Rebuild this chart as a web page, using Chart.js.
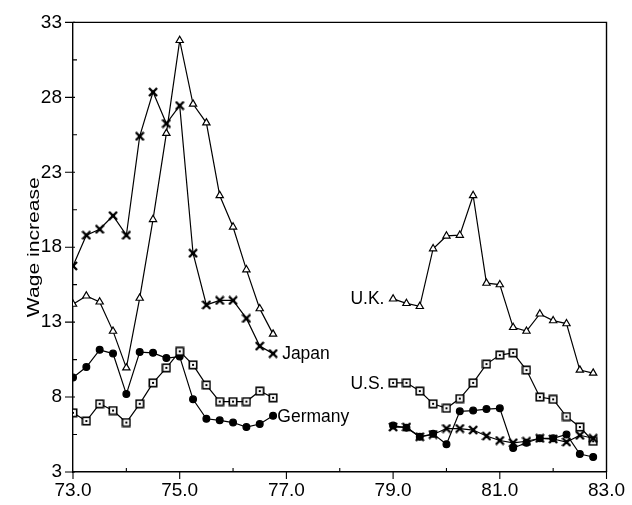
<!DOCTYPE html>
<html>
<head>
<meta charset="utf-8">
<script src="https://cdn.jsdelivr.net/npm/chart.js@4"></script>
<style>
  html, body { margin: 0; padding: 0; background: #fff; }
  #wrap { width: 632px; height: 505px; }
</style>
</head>
<body>
<div id="wrap"><canvas id="c" width="632" height="505"></canvas></div>
<script>
// Quarterly observations, two periods
const quarters1 = [73.0, 73.25, 73.5, 73.75, 74.0, 74.25, 74.5, 74.75, 75.0, 75.25, 75.5, 75.75, 76.0, 76.25, 76.5, 76.75];
const quarters2 = [79.0, 79.25, 79.5, 79.75, 80.0, 80.25, 80.5, 80.75, 81.0, 81.25, 81.5, 81.75, 82.0, 82.25, 82.5, 82.75];

const ukWages1 = [14.2, 14.75, 14.35, 12.4, 9.95, 14.6, 19.85, 25.6, 31.8, 27.55, 26.3, 21.45, 19.35, 16.5, 13.9, 12.2];
const ukWages2 = [14.55, 14.25, 14.05, 17.9, 18.75, 18.8, 21.45, 15.6, 15.5, 12.65, 12.4, 13.55, 13.1, 12.9, 9.8, 9.6];

const japanWages1 = [16.75, 18.8, 19.2, 20.1, 18.8, 25.4, 28.35, 26.25, 27.45, 17.6, 14.15, 14.45, 14.45, 13.25, 11.4, 10.9];
const japanWages2 = [6.0, 6.0, 5.35, 5.5, 5.9, 5.9, 5.8, 5.4, 5.1, 4.95, 5.05, 5.25, 5.2, 5.0, 5.45, 5.25];

const usWages1 = [6.95, 6.4, 7.55, 7.1, 6.3, 7.55, 8.95, 9.95, 11.05, 10.15, 8.8, 7.7, 7.7, 7.7, 8.4, 7.95];
const usWages2 = [8.95, 8.95, 8.4, 7.55, 7.25, 7.9, 8.95, 10.2, 10.8, 10.95, 9.8, 8.0, 7.85, 6.7, 6.0, 5.05];

const germanyWages1 = [9.3, 10.0, 11.15, 10.9, 8.2, 11.0, 10.95, 10.6, 10.7, 7.85, 6.55, 6.45, 6.3, 6.0, 6.2, 6.75];
const germanyWages2 = [6.1, 5.95, 5.35, 5.55, 4.85, 7.05, 7.1, 7.2, 7.25, 4.6, 4.95, 5.25, 5.25, 5.5, 4.2, 4.0];

const yTicks = [3, 8, 13, 18, 23, 28, 33];
const xTicks = [73, 75, 77, 79, 81, 83];
const yTitle = 'Wage increase';

// Join the two periods, with a break between them
function periods(xs1, ys1, xs2, ys2) {
  const pts = xs1.map((x, i) => ({ x: x, y: ys1[i] }));
  pts.push({ x: 78, y: null });
  return pts.concat(xs2.map((x, i) => ({ x: x, y: ys2[i] })));
}

// Marker images
function squareMarker() {
  const c = document.createElement('canvas');
  c.width = 10; c.height = 10;
  const g = c.getContext('2d');
  g.fillStyle = '#fff';
  g.fillRect(1, 1, 8, 8);
  g.strokeStyle = '#000';
  g.lineWidth = 1.6;
  g.strokeRect(1.3, 1.3, 7.4, 7.4);
  g.fillStyle = '#000';
  g.fillRect(4, 4, 2, 2);
  return c;
}
function bowtieMarker() {
  const c = document.createElement('canvas');
  c.width = 10; c.height = 10;
  const g = c.getContext('2d');
  g.strokeStyle = '#000';
  g.lineWidth = 2.4;
  g.lineCap = 'butt';
  g.beginPath();
  g.moveTo(1, 1); g.lineTo(9, 9);
  g.moveTo(9, 1); g.lineTo(1, 9);
  g.stroke();
  g.fillStyle = '#000';
  g.fillRect(3, 3, 4, 4);
  return c;
}

const FONT = "'Liberation Sans', Arial, Helvetica, sans-serif";

const annotations = [
  { text: 'Japan', x: 76.92, y: 10.85 },
  { text: 'U.K.', x: 78.2, y: 14.5 },
  { text: 'U.S.', x: 78.2, y: 8.85 },
  { text: 'Germany', x: 76.83, y: 6.65 }
];

const framePlugin = {
  id: 'frame',
  afterDraw(chart) {
    const { ctx, chartArea: a, scales } = chart;
    ctx.save();
    ctx.strokeStyle = '#000';
    ctx.lineWidth = 1.4;
    ctx.beginPath();
    ctx.moveTo(a.left, a.top); ctx.lineTo(a.right, a.top); ctx.lineTo(a.right, a.bottom);
    ctx.stroke();

    // Tick marks: major outward, minor inward
    ctx.lineWidth = 1.1;
    ctx.beginPath();
    yTicks.forEach(v => {
      const py = scales.y.getPixelForValue(v);
      ctx.moveTo(a.left - 8, py); ctx.lineTo(a.left + 2, py);
    });
    for (let i = 0; i < yTicks.length - 1; i++) {
      const py = scales.y.getPixelForValue((yTicks[i] + yTicks[i + 1]) / 2);
      ctx.moveTo(a.left, py); ctx.lineTo(a.left + 4, py);
    }
    xTicks.forEach(v => {
      const px = scales.x.getPixelForValue(v);
      ctx.moveTo(px, a.bottom - 1); ctx.lineTo(px, a.bottom + 7);
    });
    for (let i = 0; i < xTicks.length - 1; i++) {
      const px = scales.x.getPixelForValue((xTicks[i] + xTicks[i + 1]) / 2);
      ctx.moveTo(px, a.bottom); ctx.lineTo(px, a.bottom - 4);
    }
    ctx.stroke();

    // Country labels
    ctx.fillStyle = '#000';
    ctx.font = '17.5px ' + FONT;
    ctx.textAlign = 'left';
    ctx.textBaseline = 'middle';
    annotations.forEach(t => {
      ctx.fillText(t.text, scales.x.getPixelForValue(t.x), scales.y.getPixelForValue(t.y));
    });

    // Vertical axis title, set in a wide face
    const midY = (a.top + a.bottom) / 2;
    ctx.translate(35, midY);
    ctx.rotate(-Math.PI / 2);
    ctx.scale(1.32, 1);
    ctx.font = '16px ' + FONT;
    ctx.textAlign = 'center';
    ctx.fillText(yTitle, 0, 0);
    ctx.restore();
  }
};

function series(label, data, style, radius, fill) {
  return {
    label: label,
    data: data,
    borderColor: '#000',
    borderWidth: 1.2,
    pointStyle: style,
    pointRadius: radius,
    pointBackgroundColor: fill,
    pointBorderColor: '#000',
    pointBorderWidth: 1.2,
    spanGaps: false,
    tension: 0
  };
}

new Chart(document.getElementById('c'), {
  type: 'line',
  data: {
    datasets: [
      series('U.K.', periods(quarters1, ukWages1, quarters2, ukWages2), 'triangle', 4.2, '#fff'),
      series('Japan', periods(quarters1, japanWages1, quarters2, japanWages2), bowtieMarker(), 5, '#000'),
      series('U.S.', periods(quarters1, usWages1, quarters2, usWages2), squareMarker(), 5, '#fff'),
      series('Germany', periods(quarters1, germanyWages1, quarters2, germanyWages2), 'circle', 3.4, '#000')
    ]
  },
  options: {
    responsive: false,
    animation: false,
    layout: { padding: { left: 0, right: 21, top: 20, bottom: 0 } },
    plugins: { legend: { display: false }, tooltip: { enabled: false } },
    scales: {
      x: {
        type: 'linear',
        min: 73, max: 83,
        afterBuildTicks: s => { s.ticks = xTicks.map(v => ({ value: v })); },
        afterFit: s => { s.height = 33; },
        ticks: {
          color: '#000',
          font: { family: FONT, size: 19 },
          padding: 7,
          maxRotation: 0,
          callback: v => Number(v).toFixed(1)
        },
        grid: { drawOnChartArea: false, drawTicks: false },
        border: { color: '#000', width: 1.4 }
      },
      y: {
        min: 3, max: 33,
        afterBuildTicks: s => { s.ticks = yTicks.map(v => ({ value: v })); },
        afterFit: s => { s.width = 73; },
        ticks: {
          color: '#000',
          font: { family: FONT, size: 19 },
          padding: 11
        },
        grid: { drawOnChartArea: false, drawTicks: false },
        border: { color: '#000', width: 1.4 }
      }
    }
  },
  plugins: [framePlugin]
});
</script>
</body>
</html>
